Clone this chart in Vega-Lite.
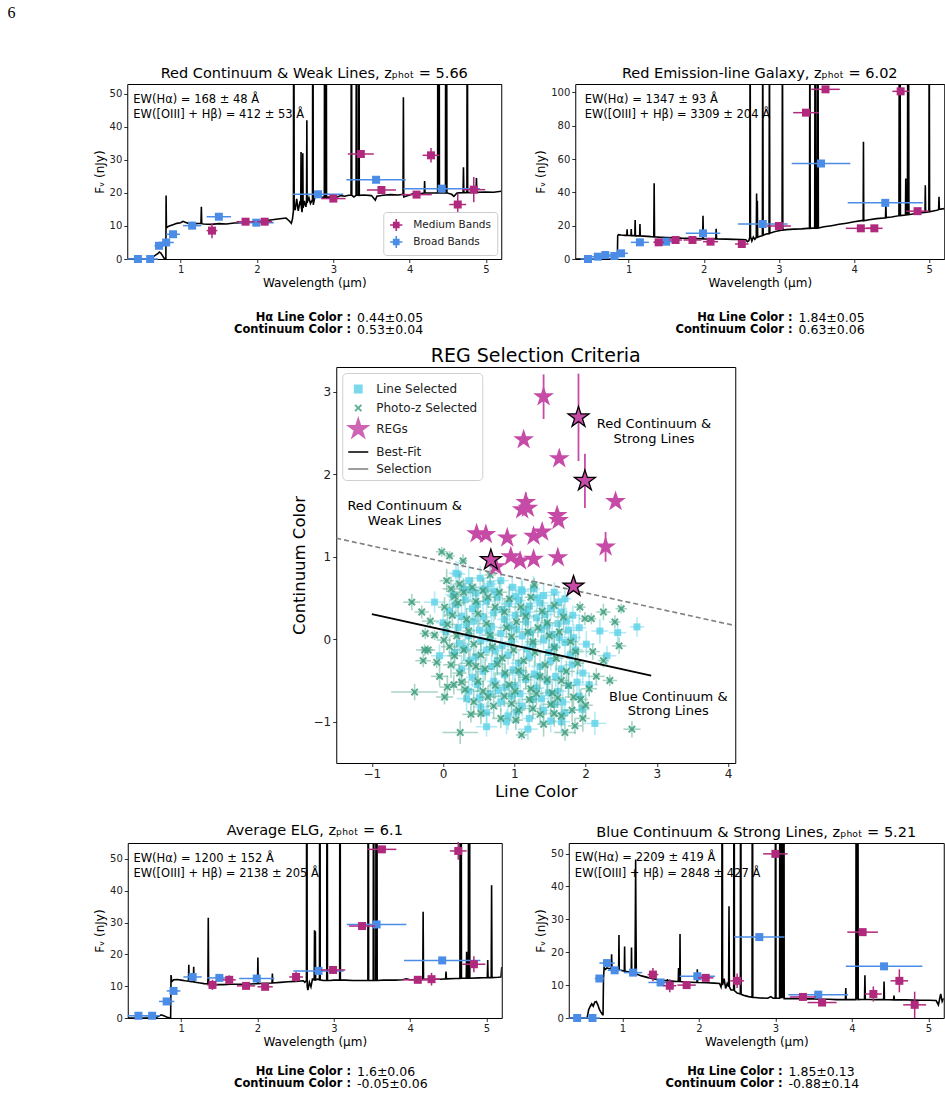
{
  "$schema": "https://vega.github.io/schema/vega-lite/v6.json",
  "background": "white",
  "padding": {"left": 7, "top": 5, "right": 4, "bottom": 4},
  "title": {"text": "6", "anchor": "start", "font": "Liberation Serif", "fontSize": 16, "fontWeight": "normal", "dx": -85, "offset": 44, "color": "#000"},
  "config": {
    "font": "DejaVu Sans",
    "view": {"stroke": "#000", "strokeWidth": 1},
    "axis": {"grid": false, "domain": false, "tickColor": "#000", "tickSize": 3.5, "tickWidth": 0.8, "labelColor": "#222", "titleColor": "#000", "titleFontWeight": "normal", "labelPadding": 2},
    "title": {"fontWeight": "normal", "color": "#000"},
    "legend": {"labelColor": "#222"}
  },
  "spacing": 9,
  "center": true,
  "resolve": {"scale": {"color": "independent", "shape": "independent"}, "legend": {"color": "independent", "shape": "independent"}},
  "datasets": {
    "tl_s": [{"w":0.30,"f":0},{"w":0.60,"f":0},{"w":0.62,"f":0.3},{"w":0.66,"f":1.0},{"w":0.70,"f":1.6},{"w":0.72,"f":2.1},{"w":0.74,"f":1.8},{"w":0.76,"f":1.1},{"w":0.78,"f":0.3},{"w":0.80,"f":0},{"w":0.806,"f":0},{"w":0.809,"f":19.2},{"w":0.813,"f":9.4},{"w":0.83,"f":9.8},{"w":0.86,"f":10.1},{"w":0.90,"f":10.4},{"w":0.95,"f":10.8},{"w":1.00,"f":11.0},{"w":1.03,"f":11.4},{"w":1.06,"f":11.1},{"w":1.10,"f":10.8},{"w":1.15,"f":11.0},{"w":1.20,"f":10.7},{"w":1.266,"f":10.8},{"w":1.271,"f":15.8},{"w":1.276,"f":10.7},{"w":1.30,"f":10.6},{"w":1.40,"f":10.5},{"w":1.50,"f":10.7},{"w":1.60,"f":10.6},{"w":1.70,"f":10.9},{"w":1.80,"f":11.0},{"w":1.90,"f":11.2},{"w":2.00,"f":11.3},{"w":2.10,"f":11.6},{"w":2.20,"f":11.9},{"w":2.30,"f":12.2},{"w":2.38,"f":12.4},{"w":2.42,"f":11.6},{"w":2.45,"f":10.8},{"w":2.465,"f":12.2},{"w":2.477,"f":14.5},{"w":2.482,"f":120},{"w":2.487,"f":16.5},{"w":2.50,"f":14.8},{"w":2.52,"f":18.2},{"w":2.54,"f":14.6},{"w":2.56,"f":17.0},{"w":2.573,"f":16.4},{"w":2.577,"f":32.4},{"w":2.581,"f":15.8},{"w":2.59,"f":14.2},{"w":2.596,"f":16.0},{"w":2.600,"f":32.0},{"w":2.604,"f":15.5},{"w":2.62,"f":17.6},{"w":2.64,"f":15.8},{"w":2.649,"f":17.0},{"w":2.653,"f":42.0},{"w":2.657,"f":17.0},{"w":2.68,"f":18.6},{"w":2.70,"f":16.8},{"w":2.727,"f":18.0},{"w":2.732,"f":120},{"w":2.737,"f":16.4},{"w":2.76,"f":19.0},{"w":2.80,"f":19.3},{"w":2.85,"f":18.8},{"w":2.882,"f":18.6},{"w":2.887,"f":120},{"w":2.892,"f":18.6},{"w":2.901,"f":18.6},{"w":2.906,"f":120},{"w":2.911,"f":18.6},{"w":2.95,"f":18.8},{"w":3.00,"f":18.0},{"w":3.05,"f":18.8},{"w":3.10,"f":19.2},{"w":3.15,"f":19.0},{"w":3.20,"f":19.3},{"w":3.232,"f":19.3},{"w":3.237,"f":120},{"w":3.242,"f":19.3},{"w":3.27,"f":18.8},{"w":3.298,"f":19.3},{"w":3.303,"f":120},{"w":3.308,"f":19.3},{"w":3.330,"f":19.3},{"w":3.335,"f":120},{"w":3.340,"f":19.3},{"w":3.40,"f":19.4},{"w":3.50,"f":19.2},{"w":3.55,"f":17.8},{"w":3.57,"f":19.0},{"w":3.65,"f":19.3},{"w":3.75,"f":19.5},{"w":3.85,"f":19.4},{"w":3.913,"f":19.6},{"w":3.918,"f":49.0},{"w":3.923,"f":18.8},{"w":3.95,"f":19.0},{"w":4.05,"f":19.8},{"w":4.15,"f":19.8},{"w":4.191,"f":20.0},{"w":4.196,"f":23.6},{"w":4.201,"f":20.0},{"w":4.30,"f":20.0},{"w":4.366,"f":20.0},{"w":4.371,"f":120},{"w":4.376,"f":20.0},{"w":4.380,"f":20.0},{"w":4.385,"f":120},{"w":4.390,"f":20.0},{"w":4.469,"f":20.0},{"w":4.474,"f":120},{"w":4.479,"f":20.0},{"w":4.483,"f":120},{"w":4.488,"f":20.0},{"w":4.55,"f":19.6},{"w":4.58,"f":19.0},{"w":4.62,"f":20.0},{"w":4.700,"f":20.1},{"w":4.705,"f":27.8},{"w":4.710,"f":20.1},{"w":4.750,"f":20.1},{"w":4.755,"f":120},{"w":4.760,"f":20.1},{"w":4.870,"f":20.2},{"w":4.875,"f":24.5},{"w":4.880,"f":20.2},{"w":5.00,"f":20.3},{"w":5.10,"f":20.2},{"w":5.20,"f":20.5}],
    "tl_b": [{"w":0.44,"f":0,"we":0.14,"fe":0.3},{"w":0.60,"f":0,"we":0.10,"fe":0.3},{"w":0.716,"f":4.0,"we":0.06,"fe":0.9},{"w":0.81,"f":5.0,"we":0.10,"fe":0.6},{"w":0.90,"f":7.5,"we":0.09,"fe":0.6},{"w":1.15,"f":10.1,"we":0.12,"fe":0.6},{"w":1.50,"f":12.8,"we":0.16,"fe":0.6},{"w":1.99,"f":11.0,"we":0.23,"fe":0.6},{"w":2.80,"f":19.6,"we":0.33,"fe":0.6},{"w":3.56,"f":24.0,"we":0.39,"fe":0.7},{"w":4.42,"f":21.3,"we":0.50,"fe":0.8}],
    "tl_m": [{"w":1.41,"f":8.6,"we":0.07,"fe":2.3},{"w":1.85,"f":11.3,"we":0.12,"fe":0.8},{"w":2.10,"f":11.3,"we":0.10,"fe":0.8},{"w":3.00,"f":18.3,"we":0.16,"fe":1.0},{"w":3.36,"f":31.8,"we":0.17,"fe":1.0},{"w":3.63,"f":20.9,"we":0.19,"fe":1.2},{"w":4.09,"f":19.5,"we":0.20,"fe":1.0},{"w":4.28,"f":31.4,"we":0.11,"fe":2.2},{"w":4.63,"f":16.5,"we":0.11,"fe":3.2},{"w":4.84,"f":21.0,"we":0.15,"fe":3.8}],
    "tl_n": [{"w":0.38,"f":48.1,"t":"EW(Hα) = 168 ± 48 Å"},{"w":0.38,"f":43.5,"t":"EW([OIII] + Hβ) = 412 ± 53 Å"}],
    "tr_s": [{"w":0.29,"f":0},{"w":0.84,"f":0},{"w":0.850,"f":0.3},{"w":0.855,"f":14.0},{"w":0.865,"f":14.6},{"w":0.90,"f":14.4},{"w":0.95,"f":14.2},{"w":0.976,"f":14.2},{"w":0.980,"f":17.8},{"w":0.984,"f":14.2},{"w":1.031,"f":14.0},{"w":1.035,"f":18.0},{"w":1.039,"f":14.0},{"w":1.083,"f":14.0},{"w":1.087,"f":23.4},{"w":1.091,"f":13.9},{"w":1.12,"f":13.9},{"w":1.147,"f":13.9},{"w":1.151,"f":21.0},{"w":1.155,"f":13.8},{"w":1.20,"f":13.7},{"w":1.25,"f":13.6},{"w":1.30,"f":13.4},{"w":1.335,"f":13.3},{"w":1.340,"f":45.5},{"w":1.345,"f":13.3},{"w":1.40,"f":13.1},{"w":1.50,"f":12.9},{"w":1.60,"f":12.7},{"w":1.70,"f":12.5},{"w":1.80,"f":12.4},{"w":1.90,"f":12.2},{"w":1.985,"f":12.1},{"w":1.990,"f":26.0},{"w":1.995,"f":12.1},{"w":2.10,"f":12.0},{"w":2.160,"f":12.0},{"w":2.165,"f":18.2},{"w":2.170,"f":12.0},{"w":2.30,"f":11.9},{"w":2.40,"f":11.8},{"w":2.50,"f":11.7},{"w":2.56,"f":11.6},{"w":2.58,"f":10.4},{"w":2.60,"f":11.0},{"w":2.612,"f":13.0},{"w":2.617,"f":150},{"w":2.622,"f":13.5},{"w":2.64,"f":10.8},{"w":2.66,"f":13.2},{"w":2.68,"f":11.8},{"w":2.699,"f":13.0},{"w":2.703,"f":39.3},{"w":2.707,"f":13.0},{"w":2.709,"f":13.0},{"w":2.713,"f":35.0},{"w":2.717,"f":13.0},{"w":2.74,"f":13.5},{"w":2.780,"f":14.0},{"w":2.785,"f":150},{"w":2.790,"f":14.2},{"w":2.83,"f":15.0},{"w":2.869,"f":15.2},{"w":2.874,"f":150},{"w":2.879,"f":15.5},{"w":2.95,"f":16.5},{"w":3.00,"f":17.0},{"w":3.042,"f":17.3},{"w":3.047,"f":150},{"w":3.052,"f":17.3},{"w":3.10,"f":17.6},{"w":3.20,"f":17.9},{"w":3.30,"f":18.1},{"w":3.38,"f":18.4},{"w":3.407,"f":18.4},{"w":3.412,"f":150},{"w":3.417,"f":18.4},{"w":3.45,"f":18.5},{"w":3.476,"f":18.5},{"w":3.481,"f":150},{"w":3.486,"f":18.5},{"w":3.505,"f":18.6},{"w":3.510,"f":150},{"w":3.515,"f":18.6},{"w":3.520,"f":150},{"w":3.525,"f":18.6},{"w":3.60,"f":19.3},{"w":3.70,"f":20.0},{"w":3.80,"f":20.8},{"w":3.90,"f":21.5},{"w":4.00,"f":22.3},{"w":4.10,"f":23.0},{"w":4.121,"f":23.0},{"w":4.125,"f":70.3},{"w":4.129,"f":23.0},{"w":4.20,"f":23.6},{"w":4.30,"f":24.2},{"w":4.40,"f":24.6},{"w":4.418,"f":24.6},{"w":4.423,"f":33.3},{"w":4.428,"f":24.8},{"w":4.50,"f":25.2},{"w":4.597,"f":26.0},{"w":4.602,"f":150},{"w":4.607,"f":26.0},{"w":4.612,"f":150},{"w":4.617,"f":26.0},{"w":4.684,"f":26.4},{"w":4.688,"f":48.3},{"w":4.692,"f":26.5},{"w":4.710,"f":26.6},{"w":4.715,"f":150},{"w":4.720,"f":26.6},{"w":4.725,"f":150},{"w":4.730,"f":26.6},{"w":4.80,"f":27.1},{"w":4.90,"f":27.8},{"w":4.944,"f":28.0},{"w":4.948,"f":44.3},{"w":4.952,"f":28.0},{"w":4.995,"f":28.3},{"w":5.000,"f":150},{"w":5.005,"f":28.3},{"w":5.10,"f":29.3},{"w":5.125,"f":29.6},{"w":5.130,"f":37.3},{"w":5.135,"f":29.8},{"w":5.20,"f":30.2}],
    "tr_b": [{"w":0.46,"f":0,"we":0.10,"fe":0.6},{"w":0.59,"f":1.4,"we":0.10,"fe":0.6},{"w":0.69,"f":2.4,"we":0.07,"fe":0.8},{"w":0.81,"f":1.8,"we":0.10,"fe":0.8},{"w":0.90,"f":3.4,"we":0.09,"fe":0.8},{"w":1.15,"f":10.0,"we":0.12,"fe":0.8},{"w":1.50,"f":10.4,"we":0.16,"fe":0.8},{"w":1.99,"f":15.4,"we":0.23,"fe":1.0},{"w":2.785,"f":21.0,"we":0.33,"fe":1.0},{"w":3.56,"f":57.3,"we":0.39,"fe":1.0},{"w":4.415,"f":33.7,"we":0.50,"fe":1.2}],
    "tr_m": [{"w":1.40,"f":10.0,"we":0.07,"fe":1.0},{"w":1.625,"f":11.4,"we":0.085,"fe":1.0},{"w":1.85,"f":11.4,"we":0.12,"fe":1.0},{"w":2.09,"f":10.4,"we":0.10,"fe":1.0},{"w":2.506,"f":9.0,"we":0.09,"fe":1.5},{"w":3.00,"f":19.8,"we":0.16,"fe":1.2},{"w":3.36,"f":87.8,"we":0.17,"fe":1.0},{"w":3.62,"f":101.8,"we":0.19,"fe":1.0},{"w":4.09,"f":18.4,"we":0.20,"fe":1.0},{"w":4.27,"f":18.4,"we":0.11,"fe":1.0},{"w":4.62,"f":100.6,"we":0.11,"fe":1.5},{"w":4.845,"f":28.7,"we":0.15,"fe":1.5}],
    "tr_n": [{"w":0.415,"f":95.4,"t":"EW(Hα) = 1347 ± 93 Å"},{"w":0.415,"f":86.6,"t":"EW([OIII] + Hβ) = 3309 ± 204 Å"}],
    "bl_s": [{"w":0.30,"f":0},{"w":0.66,"f":0},{"w":0.70,"f":0.5},{"w":0.74,"f":1.0},{"w":0.78,"f":0.6},{"w":0.82,"f":0.2},{"w":0.856,"f":0},{"w":0.862,"f":0},{"w":0.867,"f":13.5},{"w":0.875,"f":11.4},{"w":0.90,"f":12.0},{"w":0.95,"f":12.1},{"w":1.00,"f":11.9},{"w":1.05,"f":11.7},{"w":1.096,"f":11.6},{"w":1.100,"f":16.7},{"w":1.104,"f":11.5},{"w":1.14,"f":11.4},{"w":1.160,"f":11.4},{"w":1.164,"f":16.1},{"w":1.168,"f":11.3},{"w":1.25,"f":11.0},{"w":1.30,"f":10.8},{"w":1.350,"f":10.7},{"w":1.355,"f":31.5},{"w":1.360,"f":10.7},{"w":1.45,"f":10.5},{"w":1.55,"f":10.5},{"w":1.65,"f":10.6},{"w":1.80,"f":10.6},{"w":1.90,"f":10.7},{"w":2.000,"f":10.8},{"w":2.005,"f":19.0},{"w":2.010,"f":10.8},{"w":2.10,"f":10.9},{"w":2.190,"f":11.0},{"w":2.195,"f":14.0},{"w":2.200,"f":11.0},{"w":2.30,"f":11.2},{"w":2.40,"f":11.4},{"w":2.50,"f":11.5},{"w":2.60,"f":11.7},{"w":2.62,"f":11.2},{"w":2.641,"f":11.8},{"w":2.646,"f":150},{"w":2.651,"f":10.0},{"w":2.66,"f":8.8},{"w":2.68,"f":11.2},{"w":2.70,"f":9.8},{"w":2.72,"f":12.2},{"w":2.743,"f":12.0},{"w":2.747,"f":27.6},{"w":2.751,"f":12.0},{"w":2.754,"f":12.0},{"w":2.758,"f":27.3},{"w":2.762,"f":12.0},{"w":2.79,"f":12.2},{"w":2.812,"f":12.0},{"w":2.817,"f":150},{"w":2.822,"f":12.0},{"w":2.86,"f":11.8},{"w":2.907,"f":11.8},{"w":2.912,"f":150},{"w":2.917,"f":11.8},{"w":2.95,"f":11.8},{"w":3.00,"f":11.9},{"w":3.076,"f":11.9},{"w":3.081,"f":150},{"w":3.086,"f":11.9},{"w":3.15,"f":11.9},{"w":3.25,"f":11.8},{"w":3.35,"f":11.8},{"w":3.446,"f":11.8},{"w":3.451,"f":150},{"w":3.456,"f":11.8},{"w":3.516,"f":11.8},{"w":3.521,"f":150},{"w":3.526,"f":11.8},{"w":3.550,"f":11.8},{"w":3.555,"f":150},{"w":3.559,"f":11.8},{"w":3.563,"f":150},{"w":3.568,"f":11.8},{"w":3.65,"f":11.9},{"w":3.80,"f":11.9},{"w":3.90,"f":12.0},{"w":3.95,"f":12.3},{"w":4.00,"f":12.0},{"w":4.10,"f":12.1},{"w":4.165,"f":12.1},{"w":4.170,"f":33.4},{"w":4.175,"f":12.1},{"w":4.30,"f":12.2},{"w":4.40,"f":12.2},{"w":4.465,"f":12.3},{"w":4.470,"f":14.6},{"w":4.475,"f":12.3},{"w":4.60,"f":12.4},{"w":4.652,"f":12.4},{"w":4.657,"f":150},{"w":4.662,"f":12.4},{"w":4.667,"f":150},{"w":4.672,"f":12.5},{"w":4.735,"f":12.5},{"w":4.740,"f":20.8},{"w":4.745,"f":12.5},{"w":4.762,"f":12.5},{"w":4.767,"f":150},{"w":4.772,"f":12.5},{"w":4.777,"f":150},{"w":4.782,"f":12.5},{"w":4.90,"f":12.6},{"w":5.011,"f":12.7},{"w":5.016,"f":18.2},{"w":5.021,"f":12.7},{"w":5.062,"f":12.7},{"w":5.067,"f":41.7},{"w":5.072,"f":12.7},{"w":5.15,"f":12.8},{"w":5.190,"f":12.9},{"w":5.20,"f":16.0}],
    "bl_b": [{"w":0.44,"f":0.7,"we":0.14,"fe":0.5},{"w":0.62,"f":0.7,"we":0.10,"fe":0.5},{"w":0.81,"f":5.2,"we":0.10,"fe":0.6},{"w":0.90,"f":8.5,"we":0.09,"fe":0.8},{"w":1.15,"f":12.9,"we":0.12,"fe":0.8},{"w":1.50,"f":12.6,"we":0.16,"fe":0.8},{"w":1.99,"f":12.4,"we":0.23,"fe":0.8},{"w":2.80,"f":14.8,"we":0.33,"fe":0.8},{"w":3.56,"f":29.4,"we":0.39,"fe":0.8},{"w":4.42,"f":18.1,"we":0.50,"fe":0.8}],
    "bl_m": [{"w":1.41,"f":10.4,"we":0.07,"fe":1.6},{"w":1.63,"f":12.0,"we":0.085,"fe":1.4},{"w":1.85,"f":10.1,"we":0.12,"fe":0.8},{"w":2.10,"f":9.8,"we":0.10,"fe":0.8},{"w":2.505,"f":12.9,"we":0.09,"fe":1.6},{"w":2.99,"f":15.1,"we":0.16,"fe":1.0},{"w":3.37,"f":28.9,"we":0.17,"fe":1.0},{"w":3.63,"f":53.0,"we":0.19,"fe":1.0},{"w":4.10,"f":12.0,"we":0.20,"fe":1.0},{"w":4.28,"f":12.2,"we":0.11,"fe":2.0},{"w":4.63,"f":52.5,"we":0.11,"fe":2.8},{"w":4.835,"f":16.9,"we":0.15,"fe":2.5}],
    "bl_n": [{"w":0.375,"f":50.0,"t":"EW(Hα) = 1200 ± 152 Å"},{"w":0.375,"f":45.3,"t":"EW([OIII] + Hβ) = 2138 ± 205 Å"}],
    "br_s": [{"w":0.30,"f":0},{"w":0.54,"f":0},{"w":0.56,"f":2.5},{"w":0.58,"f":3.5},{"w":0.60,"f":4.3},{"w":0.62,"f":3.6},{"w":0.64,"f":4.8},{"w":0.66,"f":5.0},{"w":0.68,"f":4.0},{"w":0.70,"f":2.6},{"w":0.72,"f":1.8},{"w":0.742,"f":1.0},{"w":0.748,"f":1.0},{"w":0.754,"f":12.0},{"w":0.762,"f":15.3},{"w":0.78,"f":14.8},{"w":0.80,"f":15.2},{"w":0.83,"f":15.0},{"w":0.855,"f":15.0},{"w":0.860,"f":19.4},{"w":0.865,"f":15.0},{"w":0.90,"f":14.8},{"w":0.952,"f":14.6},{"w":0.956,"f":25.2},{"w":0.960,"f":14.6},{"w":1.00,"f":14.4},{"w":1.026,"f":14.3},{"w":1.030,"f":21.7},{"w":1.034,"f":14.2},{"w":1.10,"f":14.0},{"w":1.116,"f":14.0},{"w":1.120,"f":21.4},{"w":1.124,"f":13.9},{"w":1.165,"f":13.5},{"w":1.170,"f":30.0},{"w":1.174,"f":48.2},{"w":1.178,"f":30.0},{"w":1.183,"f":13.4},{"w":1.25,"f":12.8},{"w":1.35,"f":12.2},{"w":1.50,"f":11.5},{"w":1.586,"f":11.3},{"w":1.590,"f":11.8},{"w":1.594,"f":11.3},{"w":1.65,"f":11.2},{"w":1.70,"f":11.1},{"w":1.731,"f":11.1},{"w":1.735,"f":15.2},{"w":1.739,"f":11.1},{"w":1.750,"f":11.1},{"w":1.754,"f":25.5},{"w":1.758,"f":11.1},{"w":1.85,"f":10.9},{"w":1.976,"f":10.8},{"w":1.980,"f":14.8},{"w":1.984,"f":10.8},{"w":2.10,"f":10.7},{"w":2.20,"f":10.6},{"w":2.27,"f":10.5},{"w":2.29,"f":9.4},{"w":2.300,"f":11.0},{"w":2.305,"f":150},{"w":2.310,"f":10.0},{"w":2.33,"f":12.0},{"w":2.35,"f":9.0},{"w":2.37,"f":10.5},{"w":2.389,"f":9.5},{"w":2.394,"f":34.0},{"w":2.399,"f":9.5},{"w":2.42,"f":8.5},{"w":2.455,"f":8.5},{"w":2.460,"f":150},{"w":2.465,"f":8.3},{"w":2.50,"f":7.6},{"w":2.542,"f":7.3},{"w":2.547,"f":150},{"w":2.552,"f":7.2},{"w":2.60,"f":6.8},{"w":2.65,"f":6.5},{"w":2.695,"f":6.3},{"w":2.700,"f":150},{"w":2.705,"f":6.3},{"w":2.80,"f":6.1},{"w":2.90,"f":6.0},{"w":2.94,"f":6.5},{"w":2.97,"f":6.0},{"w":2.998,"f":6.0},{"w":3.003,"f":150},{"w":3.008,"f":6.0},{"w":3.055,"f":6.0},{"w":3.060,"f":150},{"w":3.065,"f":6.0},{"w":3.070,"f":150},{"w":3.075,"f":6.0},{"w":3.080,"f":150},{"w":3.085,"f":6.0},{"w":3.090,"f":150},{"w":3.095,"f":6.0},{"w":3.100,"f":150},{"w":3.105,"f":6.0},{"w":3.110,"f":150},{"w":3.115,"f":5.9},{"w":3.20,"f":5.9},{"w":3.30,"f":5.9},{"w":3.40,"f":5.8},{"w":3.50,"f":5.8},{"w":3.60,"f":5.7},{"w":3.70,"f":5.7},{"w":3.80,"f":5.6},{"w":3.915,"f":5.6},{"w":3.920,"f":9.1},{"w":3.925,"f":5.6},{"w":4.00,"f":5.6},{"w":4.052,"f":5.6},{"w":4.057,"f":150},{"w":4.062,"f":5.6},{"w":4.067,"f":150},{"w":4.072,"f":5.6},{"w":4.077,"f":150},{"w":4.082,"f":5.6},{"w":4.165,"f":5.7},{"w":4.170,"f":13.0},{"w":4.175,"f":5.7},{"w":4.30,"f":5.6},{"w":4.415,"f":5.6},{"w":4.420,"f":11.1},{"w":4.425,"f":5.6},{"w":4.545,"f":5.5},{"w":4.550,"f":6.8},{"w":4.555,"f":5.5},{"w":4.70,"f":5.5},{"w":4.90,"f":5.4},{"w":5.00,"f":5.4},{"w":5.10,"f":5.3},{"w":5.13,"f":4.0},{"w":5.16,"f":7.3},{"w":5.18,"f":5.0},{"w":5.20,"f":6.0}],
    "br_b": [{"w":0.41,"f":0,"we":0.11,"fe":0.3},{"w":0.61,"f":0,"we":0.10,"fe":0.3},{"w":0.70,"f":12.0,"we":0.06,"fe":1.0},{"w":0.80,"f":16.7,"we":0.10,"fe":0.8},{"w":0.90,"f":14.5,"we":0.09,"fe":0.8},{"w":1.14,"f":13.8,"we":0.12,"fe":0.8},{"w":1.50,"f":10.8,"we":0.16,"fe":0.8},{"w":1.98,"f":12.7,"we":0.23,"fe":0.8},{"w":2.79,"f":24.6,"we":0.33,"fe":0.8},{"w":3.56,"f":7.1,"we":0.39,"fe":0.8},{"w":4.42,"f":15.7,"we":0.50,"fe":0.8}],
    "br_m": [{"w":1.40,"f":13.2,"we":0.07,"fe":2.0},{"w":1.62,"f":9.8,"we":0.085,"fe":2.0},{"w":1.84,"f":10.0,"we":0.12,"fe":1.0},{"w":2.09,"f":12.2,"we":0.10,"fe":1.0},{"w":2.50,"f":11.3,"we":0.09,"fe":2.2},{"w":3.00,"f":49.9,"we":0.16,"fe":1.0},{"w":3.36,"f":6.4,"we":0.17,"fe":1.0},{"w":3.61,"f":4.7,"we":0.19,"fe":1.0},{"w":4.14,"f":26.1,"we":0.20,"fe":1.0},{"w":4.28,"f":7.3,"we":0.11,"fe":2.3},{"w":4.62,"f":11.3,"we":0.115,"fe":3.5},{"w":4.82,"f":4.0,"we":0.15,"fe":4.0}],
    "br_n": [{"w":0.38,"f":48.5,"t":"EW(Hα) = 2209 ± 419 Å"},{"w":0.38,"f":43.9,"t":"EW([OIII] + Hβ) = 2848 ± 427 Å"}],
    "cyan": [{"x":0.21,"y":0.79,"xe":0.10,"ye":0.15},{"x":0.36,"y":0.71,"xe":0.08,"ye":0.18},{"x":0.52,"y":0.74,"xe":0.12,"ye":0.15},{"x":0.66,"y":0.67,"xe":0.09,"ye":0.16},{"x":0.81,"y":0.71,"xe":0.11,"ye":0.12},{"x":0.97,"y":0.63,"xe":0.08,"ye":0.14},{"x":1.11,"y":0.58,"xe":0.10,"ye":0.13},{"x":1.27,"y":0.61,"xe":0.09,"ye":0.16},{"x":1.41,"y":0.53,"xe":0.12,"ye":0.15},{"x":1.56,"y":0.57,"xe":0.10,"ye":0.12},{"x":1.71,"y":0.49,"xe":0.09,"ye":0.14},{"x":0.14,"y":0.54,"xe":0.11,"ye":0.13},{"x":0.31,"y":0.48,"xe":0.09,"ye":0.17},{"x":0.46,"y":0.56,"xe":0.13,"ye":0.12},{"x":0.61,"y":0.46,"xe":0.10,"ye":0.15},{"x":0.76,"y":0.51,"xe":0.08,"ye":0.13},{"x":0.92,"y":0.43,"xe":0.11,"ye":0.16},{"x":1.06,"y":0.47,"xe":0.10,"ye":0.12},{"x":1.21,"y":0.40,"xe":0.09,"ye":0.15},{"x":1.36,"y":0.44,"xe":0.12,"ye":0.13},{"x":1.51,"y":0.37,"xe":0.10,"ye":0.14},{"x":1.66,"y":0.33,"xe":0.09,"ye":0.16},{"x":1.82,"y":0.29,"xe":0.11,"ye":0.12},{"x":0.09,"y":0.34,"xe":0.10,"ye":0.15},{"x":0.26,"y":0.28,"xe":0.12,"ye":0.13},{"x":0.41,"y":0.37,"xe":0.09,"ye":0.14},{"x":0.56,"y":0.27,"xe":0.11,"ye":0.16},{"x":0.71,"y":0.32,"xe":0.08,"ye":0.12},{"x":0.86,"y":0.24,"xe":0.10,"ye":0.15},{"x":1.01,"y":0.29,"xe":0.12,"ye":0.13},{"x":1.16,"y":0.21,"xe":0.09,"ye":0.17},{"x":1.31,"y":0.26,"xe":0.11,"ye":0.12},{"x":1.46,"y":0.17,"xe":0.10,"ye":0.14},{"x":1.61,"y":0.19,"xe":0.08,"ye":0.15},{"x":1.76,"y":0.11,"xe":0.12,"ye":0.13},{"x":1.91,"y":0.14,"xe":0.10,"ye":0.16},{"x":0.04,"y":0.09,"xe":0.09,"ye":0.12},{"x":0.21,"y":0.14,"xe":0.11,"ye":0.15},{"x":0.36,"y":0.04,"xe":0.10,"ye":0.13},{"x":0.51,"y":0.11,"xe":0.12,"ye":0.14},{"x":0.66,"y":0.01,"xe":0.09,"ye":0.16},{"x":0.81,"y":0.07,"xe":0.11,"ye":0.12},{"x":0.96,"y":-0.03,"xe":0.10,"ye":0.15},{"x":1.11,"y":0.04,"xe":0.08,"ye":0.13},{"x":1.26,"y":-0.06,"xe":0.12,"ye":0.17},{"x":1.41,"y":-0.01,"xe":0.10,"ye":0.12},{"x":1.56,"y":-0.09,"xe":0.09,"ye":0.14},{"x":1.71,"y":-0.04,"xe":0.11,"ye":0.15},{"x":1.86,"y":-0.13,"xe":0.10,"ye":0.13},{"x":2.01,"y":-0.06,"xe":0.12,"ye":0.16},{"x":0.16,"y":-0.16,"xe":0.09,"ye":0.12},{"x":0.31,"y":-0.11,"xe":0.11,"ye":0.15},{"x":0.46,"y":-0.21,"xe":0.10,"ye":0.13},{"x":0.61,"y":-0.13,"xe":0.12,"ye":0.14},{"x":0.76,"y":-0.26,"xe":0.08,"ye":0.16},{"x":0.91,"y":-0.19,"xe":0.10,"ye":0.12},{"x":1.06,"y":-0.29,"xe":0.11,"ye":0.15},{"x":1.21,"y":-0.21,"xe":0.09,"ye":0.13},{"x":1.36,"y":-0.33,"xe":0.12,"ye":0.17},{"x":1.51,"y":-0.26,"xe":0.10,"ye":0.12},{"x":1.66,"y":-0.36,"xe":0.08,"ye":0.14},{"x":1.81,"y":-0.31,"xe":0.11,"ye":0.15},{"x":1.96,"y":-0.41,"xe":0.10,"ye":0.13},{"x":0.26,"y":-0.36,"xe":0.12,"ye":0.16},{"x":0.41,"y":-0.46,"xe":0.09,"ye":0.12},{"x":0.56,"y":-0.39,"xe":0.11,"ye":0.15},{"x":0.71,"y":-0.51,"xe":0.10,"ye":0.13},{"x":0.86,"y":-0.43,"xe":0.12,"ye":0.14},{"x":1.01,"y":-0.56,"xe":0.08,"ye":0.16},{"x":1.16,"y":-0.49,"xe":0.10,"ye":0.12},{"x":1.31,"y":-0.59,"xe":0.11,"ye":0.15},{"x":1.46,"y":-0.51,"xe":0.09,"ye":0.13},{"x":1.61,"y":-0.63,"xe":0.12,"ye":0.17},{"x":1.76,"y":-0.56,"xe":0.10,"ye":0.12},{"x":1.91,"y":-0.69,"xe":0.08,"ye":0.14},{"x":0.36,"y":-0.63,"xe":0.11,"ye":0.15},{"x":0.51,"y":-0.71,"xe":0.10,"ye":0.13},{"x":0.66,"y":-0.66,"xe":0.12,"ye":0.16},{"x":0.81,"y":-0.76,"xe":0.09,"ye":0.12},{"x":0.96,"y":-0.69,"xe":0.11,"ye":0.15},{"x":1.11,"y":-0.81,"xe":0.10,"ye":0.13},{"x":1.26,"y":-0.73,"xe":0.12,"ye":0.14},{"x":1.41,"y":-0.86,"xe":0.08,"ye":0.16},{"x":1.56,"y":-0.79,"xe":0.10,"ye":0.12},{"x":1.71,"y":-0.89,"xe":0.11,"ye":0.15},{"x":0.61,"y":-0.89,"xe":0.09,"ye":0.13},{"x":0.91,"y":-0.93,"xe":0.12,"ye":0.17},{"x":1.21,"y":-0.96,"xe":0.10,"ye":0.12},{"x":1.51,"y":-0.99,"xe":0.08,"ye":0.14},{"x":2.72,"y":0.15,"xe":0.10,"ye":0.12},{"x":2.45,"y":0.08,"xe":0.12,"ye":0.14},{"x":0.61,"y":-1.06,"xe":0.15,"ye":0.12},{"x":0.89,"y":-1.00,"xe":0.13,"ye":0.15},{"x":1.19,"y":-1.09,"xe":0.14,"ye":0.13},{"x":2.13,"y":-1.02,"xe":0.16,"ye":0.14},{"x":1.66,"y":-1.00,"xe":0.12,"ye":0.13},{"x":0.33,"y":-0.72,"xe":0.14,"ye":0.16},{"x":-0.12,"y":0.45,"xe":0.15,"ye":0.13},{"x":0.18,"y":0.80,"xe":0.10,"ye":0.15},{"x":1.10,"y":0.60,"xe":0.11,"ye":0.14},{"x":2.30,"y":-0.20,"xe":0.13,"ye":0.12},{"x":2.20,"y":0.10,"xe":0.12,"ye":0.15},{"x":-0.05,"y":-0.20,"xe":0.12,"ye":0.14},{"x":0.00,"y":0.20,"xe":0.10,"ye":0.13},{"x":2.05,"y":-0.55,"xe":0.12,"ye":0.14},{"x":1.95,"y":-0.85,"xe":0.11,"ye":0.13},{"x":0.58,"y":0.61,"xe":0.10,"ye":0.13},{"x":1.03,"y":0.12,"xe":0.11,"ye":0.14},{"x":0.73,"y":-0.14,"xe":0.09,"ye":0.15},{"x":1.33,"y":-0.44,"xe":0.12,"ye":0.13},{"x":0.48,"y":-0.55,"xe":0.10,"ye":0.16},{"x":1.18,"y":0.33,"xe":0.11,"ye":0.12},{"x":0.88,"y":-0.58,"xe":0.10,"ye":0.14},{"x":1.48,"y":-0.65,"xe":0.12,"ye":0.15},{"x":0.28,"y":0.62,"xe":0.09,"ye":0.13},{"x":1.63,"y":0.02,"xe":0.11,"ye":0.14},{"x":0.43,"y":0.22,"xe":0.10,"ye":0.15},{"x":1.38,"y":0.12,"xe":0.12,"ye":0.13},{"x":0.68,"y":0.15,"xe":0.09,"ye":0.16},{"x":1.08,"y":-0.40,"xe":0.11,"ye":0.12},{"x":0.38,"y":0.60,"xe":0.10,"ye":0.14},{"x":0.72,"y":0.58,"xe":0.11,"ye":0.13},{"x":1.02,"y":0.52,"xe":0.09,"ye":0.15},{"x":1.32,"y":0.50,"xe":0.12,"ye":0.14},{"x":1.62,"y":0.45,"xe":0.10,"ye":0.13},{"x":0.18,"y":0.42,"xe":0.11,"ye":0.16},{"x":0.48,"y":0.42,"xe":0.09,"ye":0.13},{"x":0.83,"y":0.36,"xe":0.12,"ye":0.15},{"x":1.13,"y":0.33,"xe":0.10,"ye":0.14},{"x":1.43,"y":0.30,"xe":0.11,"ye":0.12},{"x":1.73,"y":0.22,"xe":0.09,"ye":0.16},{"x":0.33,"y":0.18,"xe":0.12,"ye":0.13},{"x":0.63,"y":0.10,"xe":0.10,"ye":0.14},{"x":0.93,"y":0.16,"xe":0.11,"ye":0.15},{"x":1.23,"y":0.08,"xe":0.09,"ye":0.13},{"x":1.53,"y":0.06,"xe":0.12,"ye":0.14},{"x":1.83,"y":0.02,"xe":0.10,"ye":0.16},{"x":0.23,"y":-0.05,"xe":0.11,"ye":0.13},{"x":0.53,"y":-0.02,"xe":0.09,"ye":0.15},{"x":0.83,"y":-0.08,"xe":0.12,"ye":0.14},{"x":1.18,"y":-0.12,"xe":0.10,"ye":0.13},{"x":1.48,"y":-0.16,"xe":0.11,"ye":0.16},{"x":1.78,"y":-0.20,"xe":0.09,"ye":0.13},{"x":0.38,"y":-0.26,"xe":0.12,"ye":0.15},{"x":0.68,"y":-0.33,"xe":0.10,"ye":0.14},{"x":0.98,"y":-0.37,"xe":0.11,"ye":0.13},{"x":1.28,"y":-0.42,"xe":0.09,"ye":0.16},{"x":1.58,"y":-0.45,"xe":0.12,"ye":0.13},{"x":1.88,"y":-0.52,"xe":0.10,"ye":0.15},{"x":0.53,"y":-0.82,"xe":0.11,"ye":0.14},{"x":0.78,"y":-0.62,"xe":0.09,"ye":0.13},{"x":1.08,"y":-0.66,"xe":0.12,"ye":0.16},{"x":1.38,"y":-0.72,"xe":0.10,"ye":0.13},{"x":1.68,"y":-0.76,"xe":0.11,"ye":0.15},{"x":1.03,"y":-0.88,"xe":0.09,"ye":0.14}],
    "green": [{"x":0.05,"y":0.71,"xe":0.10,"ye":0.14},{"x":0.11,"y":0.61,"xe":0.12,"ye":0.15},{"x":0.23,"y":0.67,"xe":0.09,"ye":0.13},{"x":0.29,"y":0.57,"xe":0.11,"ye":0.16},{"x":0.41,"y":0.63,"xe":0.10,"ye":0.12},{"x":0.56,"y":0.59,"xe":0.12,"ye":0.15},{"x":0.63,"y":0.51,"xe":0.09,"ye":0.13},{"x":0.79,"y":0.57,"xe":0.11,"ye":0.14},{"x":0.93,"y":0.49,"xe":0.10,"ye":0.16},{"x":1.09,"y":0.39,"xe":0.12,"ye":0.12},{"x":1.23,"y":0.51,"xe":0.09,"ye":0.15},{"x":1.39,"y":0.34,"xe":0.11,"ye":0.13},{"x":1.56,"y":0.41,"xe":0.10,"ye":0.14},{"x":1.69,"y":0.27,"xe":0.12,"ye":0.16},{"x":0.02,"y":0.39,"xe":0.09,"ye":0.12},{"x":0.13,"y":0.29,"xe":0.11,"ye":0.15},{"x":0.21,"y":0.44,"xe":0.10,"ye":0.13},{"x":0.33,"y":0.24,"xe":0.12,"ye":0.14},{"x":0.49,"y":0.31,"xe":0.09,"ye":0.16},{"x":0.61,"y":0.19,"xe":0.11,"ye":0.12},{"x":0.73,"y":0.39,"xe":0.10,"ye":0.15},{"x":0.89,"y":0.14,"xe":0.12,"ye":0.13},{"x":1.03,"y":0.21,"xe":0.09,"ye":0.14},{"x":1.19,"y":0.09,"xe":0.11,"ye":0.16},{"x":1.33,"y":0.14,"xe":0.10,"ye":0.12},{"x":1.49,"y":0.04,"xe":0.12,"ye":0.15},{"x":1.63,"y":0.09,"xe":0.09,"ye":0.13},{"x":1.79,"y":-0.03,"xe":0.11,"ye":0.14},{"x":0.01,"y":-0.01,"xe":0.10,"ye":0.16},{"x":0.09,"y":-0.09,"xe":0.12,"ye":0.12},{"x":0.19,"y":0.04,"xe":0.09,"ye":0.15},{"x":0.29,"y":-0.13,"xe":0.11,"ye":0.13},{"x":0.43,"y":-0.06,"xe":0.10,"ye":0.14},{"x":0.53,"y":-0.19,"xe":0.12,"ye":0.16},{"x":0.69,"y":-0.09,"xe":0.09,"ye":0.12},{"x":0.83,"y":-0.23,"xe":0.11,"ye":0.15},{"x":0.99,"y":-0.13,"xe":0.10,"ye":0.13},{"x":1.13,"y":-0.26,"xe":0.12,"ye":0.14},{"x":1.29,"y":-0.16,"xe":0.09,"ye":0.16},{"x":1.43,"y":-0.31,"xe":0.11,"ye":0.12},{"x":1.59,"y":-0.23,"xe":0.10,"ye":0.15},{"x":1.73,"y":-0.39,"xe":0.12,"ye":0.13},{"x":1.89,"y":-0.29,"xe":0.09,"ye":0.14},{"x":0.11,"y":-0.31,"xe":0.11,"ye":0.16},{"x":0.23,"y":-0.41,"xe":0.10,"ye":0.12},{"x":0.36,"y":-0.29,"xe":0.12,"ye":0.15},{"x":0.49,"y":-0.51,"xe":0.09,"ye":0.13},{"x":0.59,"y":-0.36,"xe":0.11,"ye":0.14},{"x":0.73,"y":-0.56,"xe":0.10,"ye":0.16},{"x":0.87,"y":-0.41,"xe":0.12,"ye":0.12},{"x":1.01,"y":-0.63,"xe":0.09,"ye":0.15},{"x":1.16,"y":-0.46,"xe":0.11,"ye":0.13},{"x":1.31,"y":-0.66,"xe":0.10,"ye":0.14},{"x":1.46,"y":-0.49,"xe":0.12,"ye":0.16},{"x":1.61,"y":-0.71,"xe":0.09,"ye":0.12},{"x":1.76,"y":-0.56,"xe":0.11,"ye":0.15},{"x":1.93,"y":-0.73,"xe":0.10,"ye":0.13},{"x":0.31,"y":-0.61,"xe":0.12,"ye":0.14},{"x":0.43,"y":-0.76,"xe":0.09,"ye":0.16},{"x":0.56,"y":-0.63,"xe":0.11,"ye":0.12},{"x":0.71,"y":-0.81,"xe":0.10,"ye":0.15},{"x":0.86,"y":-0.69,"xe":0.12,"ye":0.13},{"x":1.06,"y":-0.86,"xe":0.09,"ye":0.14},{"x":1.21,"y":-0.73,"xe":0.11,"ye":0.16},{"x":1.36,"y":-0.91,"xe":0.10,"ye":0.12},{"x":1.51,"y":-0.79,"xe":0.12,"ye":0.15},{"x":1.66,"y":-0.93,"xe":0.09,"ye":0.13},{"x":1.81,"y":-0.86,"xe":0.11,"ye":0.14},{"x":1.96,"y":-0.96,"xe":0.10,"ye":0.16},{"x":0.81,"y":-0.96,"xe":0.12,"ye":0.12},{"x":1.41,"y":-1.03,"xe":0.09,"ye":0.15},{"x":-0.44,"y":0.45,"xe":0.12,"ye":0.10},{"x":-0.30,"y":0.33,"xe":0.10,"ye":0.08},{"x":-0.25,"y":0.07,"xe":0.08,"ye":0.07},{"x":-0.12,"y":0.05,"xe":0.06,"ye":0.06},{"x":-0.26,"y":-0.13,"xe":0.12,"ye":0.07},{"x":-0.21,"y":-0.13,"xe":0.10,"ye":0.06},{"x":-0.28,"y":-0.26,"xe":0.11,"ye":0.08},{"x":-0.09,"y":-0.28,"xe":0.07,"ye":0.07},{"x":-0.40,"y":-0.64,"xe":0.33,"ye":0.10},{"x":0.24,"y":-1.13,"xe":0.25,"ye":0.14},{"x":-0.02,"y":1.06,"xe":0.08,"ye":0.06},{"x":0.09,"y":1.01,"xe":0.07,"ye":0.06},{"x":0.28,"y":0.95,"xe":0.06,"ye":0.08},{"x":1.10,"y":-1.16,"xe":0.08,"ye":0.06},{"x":1.71,"y":-1.13,"xe":0.15,"ye":0.10},{"x":2.65,"y":-1.09,"xe":0.12,"ye":0.10},{"x":2.50,"y":0.37,"xe":0.08,"ye":0.06},{"x":2.25,"y":0.33,"xe":0.10,"ye":0.10},{"x":2.41,"y":0.21,"xe":0.08,"ye":0.08},{"x":2.47,"y":-0.08,"xe":0.10,"ye":0.10},{"x":2.25,"y":-0.26,"xe":0.08,"ye":0.08},{"x":2.34,"y":-0.50,"xe":0.10,"ye":0.07},{"x":1.92,"y":0.39,"xe":0.08,"ye":0.07},{"x":1.99,"y":0.25,"xe":0.08,"ye":0.08},{"x":2.08,"y":0.25,"xe":0.07,"ye":0.07},{"x":2.15,"y":-0.45,"xe":0.12,"ye":0.10},{"x":2.05,"y":-0.60,"xe":0.11,"ye":0.09},{"x":1.85,"y":-1.05,"xe":0.10,"ye":0.10},{"x":-0.05,"y":-0.45,"xe":0.12,"ye":0.12},{"x":0.15,"y":-0.55,"xe":0.11,"ye":0.12},{"x":0.66,"y":0.78,"xe":0.08,"ye":0.10},{"x":-0.18,"y":0.22,"xe":0.12,"ye":0.08},{"x":1.02,"y":-0.98,"xe":0.10,"ye":0.12},{"x":0.39,"y":-0.91,"xe":0.12,"ye":0.10},{"x":2.10,"y":-0.15,"xe":0.10,"ye":0.10},{"x":1.28,"y":0.66,"xe":0.06,"ye":0.08},{"x":0.02,"y":-0.70,"xe":0.12,"ye":0.09},{"x":0.16,"y":0.52,"xe":0.10,"ye":0.13},{"x":0.46,"y":0.46,"xe":0.11,"ye":0.14},{"x":0.86,"y":0.33,"xe":0.09,"ye":0.15},{"x":1.16,"y":0.28,"xe":0.12,"ye":0.13},{"x":1.46,"y":0.20,"xe":0.10,"ye":0.14},{"x":0.06,"y":0.18,"xe":0.11,"ye":0.16},{"x":0.36,"y":0.10,"xe":0.09,"ye":0.13},{"x":0.66,"y":0.05,"xe":0.12,"ye":0.15},{"x":0.96,"y":0.03,"xe":0.10,"ye":0.14},{"x":1.26,"y":-0.03,"xe":0.11,"ye":0.12},{"x":1.56,"y":-0.10,"xe":0.09,"ye":0.16},{"x":1.86,"y":-0.15,"xe":0.12,"ye":0.13},{"x":0.16,"y":-0.20,"xe":0.10,"ye":0.14},{"x":0.46,"y":-0.33,"xe":0.11,"ye":0.15},{"x":0.76,"y":-0.30,"xe":0.09,"ye":0.13},{"x":1.06,"y":-0.38,"xe":0.12,"ye":0.14},{"x":1.36,"y":-0.45,"xe":0.10,"ye":0.16},{"x":1.66,"y":-0.50,"xe":0.11,"ye":0.13},{"x":0.26,"y":-0.52,"xe":0.09,"ye":0.15},{"x":0.63,"y":-0.70,"xe":0.12,"ye":0.14},{"x":0.93,"y":-0.55,"xe":0.10,"ye":0.13},{"x":1.23,"y":-0.60,"xe":0.11,"ye":0.16},{"x":1.53,"y":-0.65,"xe":0.09,"ye":0.13},{"x":1.83,"y":-0.70,"xe":0.12,"ye":0.15},{"x":0.96,"y":-0.78,"xe":0.10,"ye":0.14},{"x":1.26,"y":-0.84,"xe":0.11,"ye":0.13},{"x":1.56,"y":-0.90,"xe":0.09,"ye":0.16},{"x":0.53,"y":-0.90,"xe":0.12,"ye":0.13},{"x":2.00,"y":-0.80,"xe":0.10,"ye":0.15},{"x":0.06,"y":-0.58,"xe":0.11,"ye":0.14}],
    "stars": [{"x":1.41,"y":2.94,"ye":0.27},{"x":1.13,"y":2.42,"ye":0},{"x":1.63,"y":2.19,"ye":0},{"x":2.42,"y":1.67,"ye":0},{"x":1.16,"y":1.66,"ye":0.12},{"x":1.11,"y":1.57,"ye":0},{"x":1.19,"y":1.59,"ye":0},{"x":1.60,"y":1.50,"ye":0.05},{"x":1.62,"y":1.44,"ye":0},{"x":0.47,"y":1.28,"ye":0},{"x":0.60,"y":1.27,"ye":0},{"x":0.90,"y":1.23,"ye":0},{"x":1.27,"y":1.25,"ye":0},{"x":1.39,"y":1.30,"ye":0},{"x":0.95,"y":1.00,"ye":0},{"x":1.08,"y":0.95,"ye":0},{"x":1.27,"y":0.97,"ye":0},{"x":1.61,"y":0.99,"ye":0},{"x":0.74,"y":0.88,"ye":0},{"x":2.28,"y":1.12,"ye":0.18}],
    "stars_ol": [{"x":0.67,"y":0.96,"ye":0},{"x":1.90,"y":2.69,"ye":0.53},{"x":1.99,"y":1.92,"ye":0.33},{"x":1.83,"y":0.64,"ye":0}],
    "fit": [{"x":-1.0,"y":0.305},{"x":2.92,"y":-0.44}],
    "sel": [{"x":-1.5,"y":1.225},{"x":4.1,"y":0.165}],
    "sc_n": [{"x":2.96,"y":2.61,"t":"Red Continuum &"},{"x":2.96,"y":2.43,"t":"Strong Lines"},{"x":-0.54,"y":1.61,"t":"Red Continuum &"},{"x":-0.54,"y":1.43,"t":"Weak Lines"},{"x":3.16,"y":-0.70,"t":"Blue Continuum &"},{"x":3.16,"y":-0.87,"t":"Strong Lines"}]
  },
  "vconcat": [
    {
      "hconcat": [
        {
          "width": 374, "height": 175,
          "title": {"text": "Red Continuum & Weak Lines, zₚₕₒₜ = 5.66", "fontSize": 14.5, "offset": 3},
          "encoding": {
            "x": {"field": "w", "type": "quantitative", "scale": {"domain": [0.3, 5.2], "nice": false, "zero": false}, "axis": {"values": [1, 2, 3, 4, 5], "format": "d", "title": "Wavelength (μm)", "labelFontSize": 10, "titleFontSize": 12, "titlePadding": 3}},
            "y": {"field": "f", "type": "quantitative", "scale": {"domain": [0, 53], "nice": false}, "axis": {"values": [0, 10, 20, 30, 40, 50], "format": "d", "title": "Fᵥ (nJy)", "labelFontSize": 10, "titleFontSize": 12, "titlePadding": 3}}
          },
          "layer": [
            {"data": {"name": "tl_s"}, "mark": {"type": "line", "color": "#000", "strokeWidth": 1.6, "clip": true}},
            {"data": {"name": "tl_n"}, "mark": {"type": "text", "align": "left", "baseline": "middle", "fontSize": 11.5, "color": "#000"}, "encoding": {"text": {"field": "t"}}},
            {"data": {"name": "tl_b"}, "mark": {"type": "errorbar", "color": "#4b8de6", "thickness": 1.5}, "encoding": {"xError": {"field": "we"}}},
            {"data": {"name": "tl_b"}, "mark": {"type": "errorbar", "color": "#4b8de6", "thickness": 1.5}, "encoding": {"yError": {"field": "fe"}}},
            {"data": {"name": "tl_b"}, "mark": {"type": "point", "shape": "square", "filled": true, "size": 64, "opacity": 1},
             "encoding": {"color": {"datum": "Broad Bands", "type": "nominal", "scale": {"domain": ["Medium Bands", "Broad Bands"], "range": ["#b0297d", "#4b8de6"]},
                 "legend": {"orient": "bottom-right", "title": null, "offset": 4, "padding": 6, "strokeColor": "#cccccc", "fillColor": "white", "cornerRadius": 3, "labelFontSize": 10.5, "symbolType": "M-0.55,-0.55H0.55V0.55H-0.55Z M-1,-0.13H1V0.13H-1Z M-0.13,-1H0.13V1H-0.13Z", "symbolSize": 150, "rowPadding": 3, "labelOffset": 10}}}},
            {"data": {"name": "tl_m"}, "mark": {"type": "errorbar", "color": "#b0297d", "thickness": 1.5}, "encoding": {"xError": {"field": "we"}}},
            {"data": {"name": "tl_m"}, "mark": {"type": "errorbar", "color": "#b0297d", "thickness": 1.5}, "encoding": {"yError": {"field": "fe"}}},
            {"data": {"name": "tl_m"}, "mark": {"type": "point", "shape": "square", "filled": true, "size": 64, "opacity": 1},
             "encoding": {"color": {"datum": "Medium Bands", "type": "nominal"}}}
          ]
        },
        {
          "width": 369, "height": 175,
          "title": {"text": "Red Emission-line Galaxy, zₚₕₒₜ = 6.02", "fontSize": 14.5, "offset": 3},
          "encoding": {
            "x": {"field": "w", "type": "quantitative", "scale": {"domain": [0.29, 5.2], "nice": false, "zero": false}, "axis": {"values": [1, 2, 3, 4, 5], "format": "d", "title": "Wavelength (μm)", "labelFontSize": 10, "titleFontSize": 12, "titlePadding": 3}},
            "y": {"field": "f", "type": "quantitative", "scale": {"domain": [0, 105], "nice": false}, "axis": {"values": [0, 20, 40, 60, 80, 100], "format": "d", "title": "Fᵥ (nJy)", "labelFontSize": 10, "titleFontSize": 12, "titlePadding": 3}}
          },
          "layer": [
            {"data": {"name": "tr_s"}, "mark": {"type": "line", "color": "#000", "strokeWidth": 1.6, "clip": true}},
            {"data": {"name": "tr_n"}, "mark": {"type": "text", "align": "left", "baseline": "middle", "fontSize": 11.5, "color": "#000"}, "encoding": {"text": {"field": "t"}}},
            {"data": {"name": "tr_b"}, "mark": {"type": "errorbar", "color": "#4b8de6", "thickness": 1.5}, "encoding": {"xError": {"field": "we"}}},
            {"data": {"name": "tr_b"}, "mark": {"type": "errorbar", "color": "#4b8de6", "thickness": 1.5}, "encoding": {"yError": {"field": "fe"}}},
            {"data": {"name": "tr_b"}, "mark": {"type": "point", "shape": "square", "filled": true, "size": 64, "opacity": 1, "color": "#4b8de6"}},
            {"data": {"name": "tr_m"}, "mark": {"type": "errorbar", "color": "#b0297d", "thickness": 1.5}, "encoding": {"xError": {"field": "we"}}},
            {"data": {"name": "tr_m"}, "mark": {"type": "errorbar", "color": "#b0297d", "thickness": 1.5}, "encoding": {"yError": {"field": "fe"}}},
            {"data": {"name": "tr_m"}, "mark": {"type": "point", "shape": "square", "filled": true, "size": 64, "opacity": 1, "color": "#b0297d"}}
          ]
        }
      ],
      "spacing": 31,
      "resolve": {"scale": {"color": "independent"}, "legend": {"color": "independent"}}
    },
    {
      "hconcat": [
        {"width": 410, "height": 34, "view": {"stroke": null},
         "data": {"values": [{"line": 1, "label": "Hα Line Color :", "value": "0.44±0.05"}, {"line": 2, "label": "Continuum Color :", "value": "0.53±0.04"}]},
         "encoding": {"y": {"field": "line", "type": "ordinal", "axis": null, "scale": {"type": "point", "padding": 0.9167, "align": 0.909}}},
         "layer": [
           {"mark": {"type": "text", "align": "right", "baseline": "middle", "fontWeight": "bold", "fontSize": 11.5, "dx": 35, "color": "#000"}, "encoding": {"text": {"field": "label"}}},
           {"mark": {"type": "text", "align": "left", "baseline": "middle", "fontSize": 12.5, "dx": 41, "color": "#000"}, "encoding": {"text": {"field": "value"}}}
         ]},
        {"width": 369, "height": 34, "view": {"stroke": null},
         "data": {"values": [{"line": 1, "label": "Hα Line Color :", "value": "1.84±0.05"}, {"line": 2, "label": "Continuum Color :", "value": "0.63±0.06"}]},
         "encoding": {"y": {"field": "line", "type": "ordinal", "axis": null, "scale": {"type": "point", "padding": 0.9167, "align": 0.909}}},
         "layer": [
           {"mark": {"type": "text", "align": "right", "baseline": "middle", "fontWeight": "bold", "fontSize": 11.5, "dx": 16, "color": "#000"}, "encoding": {"text": {"field": "label"}}},
           {"mark": {"type": "text", "align": "left", "baseline": "middle", "fontSize": 12.5, "dx": 22, "color": "#000"}, "encoding": {"text": {"field": "value"}}}
         ]}
      ],
      "spacing": 71
    },
    {
      "width": 399, "height": 396,
      "title": {"text": "REG Selection Criteria", "fontSize": 19, "offset": 1},
      "encoding": {
        "x": {"field": "x", "type": "quantitative", "scale": {"domain": [-1.5, 4.1], "nice": false, "zero": false}, "axis": {"values": [-1, 0, 1, 2, 3, 4], "format": "d", "title": ["Line Color", ""], "titleLineHeight": 12, "labelFontSize": 12, "titleFontSize": 16.5, "titlePadding": 4}},
        "y": {"field": "y", "type": "quantitative", "scale": {"domain": [-1.5, 3.3], "nice": false, "zero": false}, "axis": {"values": [-1, 0, 1, 2, 3], "format": "d", "title": "Continuum Color", "labelFontSize": 12, "titleFontSize": 16.5, "titlePadding": 6}}
      },
      "layer": [
        {"data": {"name": "cyan"}, "mark": {"type": "errorbar", "color": "#72d8ee", "opacity": 0.55, "thickness": 1.6}, "encoding": {"xError": {"field": "xe"}}},
        {"data": {"name": "cyan"}, "mark": {"type": "errorbar", "color": "#72d8ee", "opacity": 0.55, "thickness": 1.6}, "encoding": {"yError": {"field": "ye"}}},
        {"data": {"name": "cyan"}, "mark": {"type": "point", "filled": true, "opacity": 0.85, "size": 400},
         "encoding": {
           "color": {"datum": "Line Selected", "type": "nominal", "scale": {"domain": ["Line Selected", "Photo-z Selected", "REGs", "Best-Fit", "Selection"], "range": ["#63d4e9", "#3e9e80", "#c64ba7", "#000000", "#808080"]},
             "legend": {"orient": "top-left", "title": null, "offset": 6, "padding": 5, "strokeColor": "#d0d0d0", "fillColor": "white", "cornerRadius": 4, "labelFontSize": 12, "labelOffset": 7, "rowPadding": 0, "symbolSize": 400, "symbolStrokeWidth": 1.8,
               "encode": {"symbols": {"update": {
                 "fill": [{"test": "datum.value === 'Line Selected'", "value": "#63d4e9"}, {"test": "datum.value === 'REGs'", "value": "#c64ba7"}, {"value": "transparent"}],
                 "stroke": [{"test": "datum.value === 'Photo-z Selected'", "value": "#3e9e80"}, {"test": "datum.value === 'Best-Fit'", "value": "#000000"}, {"test": "datum.value === 'Selection'", "value": "#808080"}, {"value": "transparent"}],
                 "strokeDash": [{"test": "datum.value === 'Selection'", "value": [5, 3]}, {"value": [1, 0]}],
                 "opacity": {"value": 1}}}}}},
           "shape": {"datum": "Line Selected", "type": "nominal", "scale": {"domain": ["Line Selected", "Photo-z Selected", "REGs", "Best-Fit", "Selection"], "range": ["M-0.35,-0.35H0.35V0.35H-0.35Z", "M-0.32,-0.32L0.32,0.32M-0.32,0.32L0.32,-0.32", "M0,-1L0.2245,-0.309L0.951,-0.309L0.363,0.118L0.588,0.809L0,0.382L-0.588,0.809L-0.363,0.118L-0.951,-0.309L-0.2245,-0.309Z", "stroke", "stroke"]}}}},
        {"data": {"name": "green"}, "mark": {"type": "errorbar", "color": "#55ab8d", "opacity": 0.5, "thickness": 1.6}, "encoding": {"xError": {"field": "xe"}}},
        {"data": {"name": "green"}, "mark": {"type": "errorbar", "color": "#55ab8d", "opacity": 0.5, "thickness": 1.6}, "encoding": {"yError": {"field": "ye"}}},
        {"data": {"name": "green"}, "mark": {"type": "point", "filled": false, "strokeWidth": 2, "opacity": 0.85, "size": 400},
         "encoding": {"color": {"datum": "Photo-z Selected", "type": "nominal"}, "shape": {"datum": "Photo-z Selected", "type": "nominal"}}},
        {"data": {"name": "sel"}, "mark": {"type": "line", "strokeWidth": 1.6, "clip": true, "strokeDash": [5, 3]},
         "encoding": {"color": {"datum": "Selection", "type": "nominal"}}},
        {"data": {"name": "fit"}, "mark": {"type": "line", "strokeWidth": 1.8, "clip": true},
         "encoding": {"color": {"datum": "Best-Fit", "type": "nominal"}}},
        {"data": {"name": "stars"}, "mark": {"type": "errorbar", "color": "#c64ba7", "thickness": 1.8}, "encoding": {"yError": {"field": "ye"}}},
        {"data": {"name": "stars"}, "mark": {"type": "point", "filled": true, "opacity": 1, "size": 480},
         "encoding": {"color": {"datum": "REGs", "type": "nominal"}, "shape": {"datum": "REGs", "type": "nominal"}}},
        {"data": {"name": "stars_ol"}, "mark": {"type": "errorbar", "color": "#c64ba7", "thickness": 1.8}, "encoding": {"yError": {"field": "ye"}}},
        {"data": {"name": "stars_ol"}, "mark": {"type": "point", "filled": true, "opacity": 1, "size": 480, "stroke": "#000", "strokeWidth": 1.3},
         "encoding": {"color": {"datum": "REGs", "type": "nominal"}, "shape": {"datum": "REGs", "type": "nominal"}}},
        {"data": {"name": "sc_n"}, "mark": {"type": "text", "fontSize": 13, "align": "center", "baseline": "middle", "color": "#000"},
         "encoding": {"text": {"field": "t"}}}
      ]
    },
    {
      "hconcat": [
        {
          "width": 374, "height": 175,
          "title": {"text": "Average ELG, zₚₕₒₜ = 6.1", "fontSize": 14.5, "offset": 3},
          "encoding": {
            "x": {"field": "w", "type": "quantitative", "scale": {"domain": [0.3, 5.2], "nice": false, "zero": false}, "axis": {"values": [1, 2, 3, 4, 5], "format": "d", "title": "Wavelength (μm)", "labelFontSize": 10, "titleFontSize": 12, "titlePadding": 3}},
            "y": {"field": "f", "type": "quantitative", "scale": {"domain": [0, 55], "nice": false}, "axis": {"values": [0, 10, 20, 30, 40, 50], "format": "d", "title": "Fᵥ (nJy)", "labelFontSize": 10, "titleFontSize": 12, "titlePadding": 3}}
          },
          "layer": [
            {"data": {"name": "bl_s"}, "mark": {"type": "line", "color": "#000", "strokeWidth": 1.6, "clip": true}},
            {"data": {"name": "bl_n"}, "mark": {"type": "text", "align": "left", "baseline": "middle", "fontSize": 11.5, "color": "#000"}, "encoding": {"text": {"field": "t"}}},
            {"data": {"name": "bl_b"}, "mark": {"type": "errorbar", "color": "#4b8de6", "thickness": 1.5}, "encoding": {"xError": {"field": "we"}}},
            {"data": {"name": "bl_b"}, "mark": {"type": "errorbar", "color": "#4b8de6", "thickness": 1.5}, "encoding": {"yError": {"field": "fe"}}},
            {"data": {"name": "bl_b"}, "mark": {"type": "point", "shape": "square", "filled": true, "size": 64, "opacity": 1, "color": "#4b8de6"}},
            {"data": {"name": "bl_m"}, "mark": {"type": "errorbar", "color": "#b0297d", "thickness": 1.5}, "encoding": {"xError": {"field": "we"}}},
            {"data": {"name": "bl_m"}, "mark": {"type": "errorbar", "color": "#b0297d", "thickness": 1.5}, "encoding": {"yError": {"field": "fe"}}},
            {"data": {"name": "bl_m"}, "mark": {"type": "point", "shape": "square", "filled": true, "size": 64, "opacity": 1, "color": "#b0297d"}}
          ]
        },
        {
          "width": 375, "height": 175,
          "title": {"text": "Blue Continuum & Strong Lines, zₚₕₒₜ = 5.21", "fontSize": 14.5, "offset": 3},
          "encoding": {
            "x": {"field": "w", "type": "quantitative", "scale": {"domain": [0.3, 5.2], "nice": false, "zero": false}, "axis": {"values": [1, 2, 3, 4, 5], "format": "d", "title": "Wavelength (μm)", "labelFontSize": 10, "titleFontSize": 12, "titlePadding": 3}},
            "y": {"field": "f", "type": "quantitative", "scale": {"domain": [0, 53.2], "nice": false}, "axis": {"values": [0, 10, 20, 30, 40, 50], "format": "d", "title": "Fᵥ (nJy)", "labelFontSize": 10, "titleFontSize": 12, "titlePadding": 3}}
          },
          "layer": [
            {"data": {"name": "br_s"}, "mark": {"type": "line", "color": "#000", "strokeWidth": 1.6, "clip": true}},
            {"data": {"name": "br_n"}, "mark": {"type": "text", "align": "left", "baseline": "middle", "fontSize": 11.5, "color": "#000"}, "encoding": {"text": {"field": "t"}}},
            {"data": {"name": "br_b"}, "mark": {"type": "errorbar", "color": "#4b8de6", "thickness": 1.5}, "encoding": {"xError": {"field": "we"}}},
            {"data": {"name": "br_b"}, "mark": {"type": "errorbar", "color": "#4b8de6", "thickness": 1.5}, "encoding": {"yError": {"field": "fe"}}},
            {"data": {"name": "br_b"}, "mark": {"type": "point", "shape": "square", "filled": true, "size": 64, "opacity": 1, "color": "#4b8de6"}},
            {"data": {"name": "br_m"}, "mark": {"type": "errorbar", "color": "#b0297d", "thickness": 1.5}, "encoding": {"xError": {"field": "we"}}},
            {"data": {"name": "br_m"}, "mark": {"type": "errorbar", "color": "#b0297d", "thickness": 1.5}, "encoding": {"yError": {"field": "fe"}}},
            {"data": {"name": "br_m"}, "mark": {"type": "point", "shape": "square", "filled": true, "size": 64, "opacity": 1, "color": "#b0297d"}}
          ]
        }
      ],
      "spacing": 31
    },
    {
      "hconcat": [
        {"width": 410, "height": 34, "view": {"stroke": null},
         "data": {"values": [{"line": 1, "label": "Hα Line Color :", "value": "1.6±0.06"}, {"line": 2, "label": "Continuum Color :", "value": "-0.05±0.06"}]},
         "encoding": {"y": {"field": "line", "type": "ordinal", "axis": null, "scale": {"type": "point", "padding": 0.9167, "align": 0.682}}},
         "layer": [
           {"mark": {"type": "text", "align": "right", "baseline": "middle", "fontWeight": "bold", "fontSize": 11.5, "dx": 35, "color": "#000"}, "encoding": {"text": {"field": "label"}}},
           {"mark": {"type": "text", "align": "left", "baseline": "middle", "fontSize": 12.5, "dx": 41, "color": "#000"}, "encoding": {"text": {"field": "value"}}}
         ]},
        {"width": 375, "height": 34, "view": {"stroke": null},
         "data": {"values": [{"line": 1, "label": "Hα Line Color :", "value": "1.85±0.13"}, {"line": 2, "label": "Continuum Color :", "value": "-0.88±0.14"}]},
         "encoding": {"y": {"field": "line", "type": "ordinal", "axis": null, "scale": {"type": "point", "padding": 0.9167, "align": 0.682}}},
         "layer": [
           {"mark": {"type": "text", "align": "right", "baseline": "middle", "fontWeight": "bold", "fontSize": 11.5, "dx": 9, "color": "#000"}, "encoding": {"text": {"field": "label"}}},
           {"mark": {"type": "text", "align": "left", "baseline": "middle", "fontSize": 12.5, "dx": 15, "color": "#000"}, "encoding": {"text": {"field": "value"}}}
         ]}
      ],
      "spacing": 65
    }
  ]
}
